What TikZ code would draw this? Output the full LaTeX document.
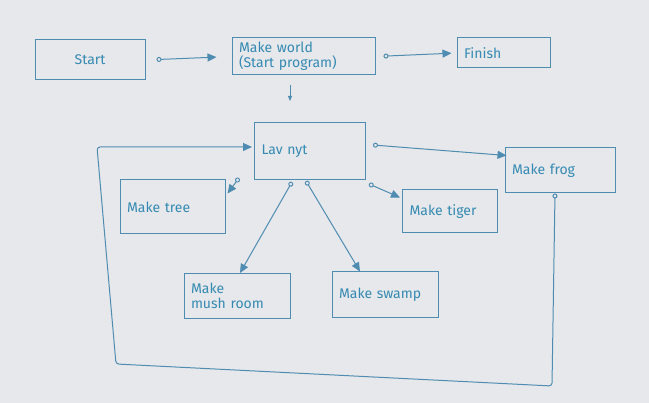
\documentclass[tikz,border=0pt]{standalone}
\usepackage{fontspec}
\setmainfont{Fira Sans}
\usetikzlibrary{calc,arrows.meta}
\definecolor{paper}{RGB}{231,232,235}
\definecolor{pen}{RGB}{78,140,178}
\definecolor{ink}{RGB}{52,138,178}

\begin{document}
\begin{tikzpicture}[
    x=1pt, y=-1pt,
    box/.style={draw=pen, line width=1pt, text=ink, inner xsep=7pt,
        inner ysep=2pt, align=left, font=\fontsize{14}{15}\selectfont},
    flow/.style={draw=pen, line width=1pt,
        {Circle[open, length=5pt, width=5pt]}-{Triangle[length=9pt, width=8pt]}},
    drop/.style={draw=pen, line width=1pt, -{Triangle[length=5pt, width=4pt]}},
    loop/.style={draw=pen, line width=1pt, rounded corners=3pt},
]
    %% the paper
    \fill[paper] (0, 0) rectangle (649, 403);
    \useasboundingbox (0, 0) rectangle (649, 403);

    %% the top row
    \node[box, align=center, text width=96, minimum height=40] (start)
        at (90, 60) {Start};
    \node[box, text width=129, minimum height=37] (world) at (303.5, 56.5)
        {Make world\\(Start program)};
    \node[box, text width=79, minimum height=30] (finish) at (503.5, 53)
        {Finish};

    %% the main node and the things it makes
    \node[box, text width=97, minimum height=57] (lav) at (310, 151)
        {Lav nyt};
    \node[box, text width=91, minimum height=54] (tree) at (172.5, 207)
        {Make tree};
    \node[box, text width=81, minimum height=43] (tiger) at (450, 211.5)
        {Make tiger};
    \node[box, text width=96, minimum height=45] (frog) at (560, 170.5)
        {Make frog};
    \node[box, text width=92, minimum height=45] (mush) at (237, 296)
        {Make\\mush room};
    \node[box, text width=92, minimum height=46] (swamp) at (385, 295)
        {Make swamp};

    %% the return loop round everything
    \coordinate (loopse) at (552, 386);
    \coordinate (loopsw) at (116, 364);
    \coordinate (loopnw) at (97, 147);
    \coordinate (dropx) at (290, 0);

    %% connectors
    \draw[flow, shorten <=11pt, shorten >=15pt] (start.east) -- (world.west);
    \draw[flow, shorten <=8pt, shorten >=5pt] (world.east) -- (finish.west);
    \draw[drop, shorten <=10pt, shorten >=21pt] (dropx |- world.south)
        -- (dropx |- lav.north);
    \draw[flow] ($(lav.south west)+(-15, -2)$)
        -- ($(tree.north east)+(2, 14)$);
    \draw[flow] ($(lav.south west)+(38, 2)$) -- ($(mush.north)+(3, 0)$);
    \draw[flow] ($(lav.south west)+(52, 1)$) -- ($(swamp.north)+(-25, 0)$);
    \draw[flow] ($(lav.south east)+(3, 4)$) -- ($(tiger.north west)+(-2, 8)$);
    \draw[flow] ($(lav.east)+(7, -6)$) -- ($(frog.north west)+(2, 8)$);
    \draw[loop, {Circle[open, length=5pt, width=5pt]}-{Triangle[length=9pt, width=8pt]}]
        ($(frog.south)+(-5, 0)$) -- (loopse) -- (loopsw) -- (loopnw)
        -- ($(lav.west)+(-2, -4)$);
\end{tikzpicture}
\end{document}
